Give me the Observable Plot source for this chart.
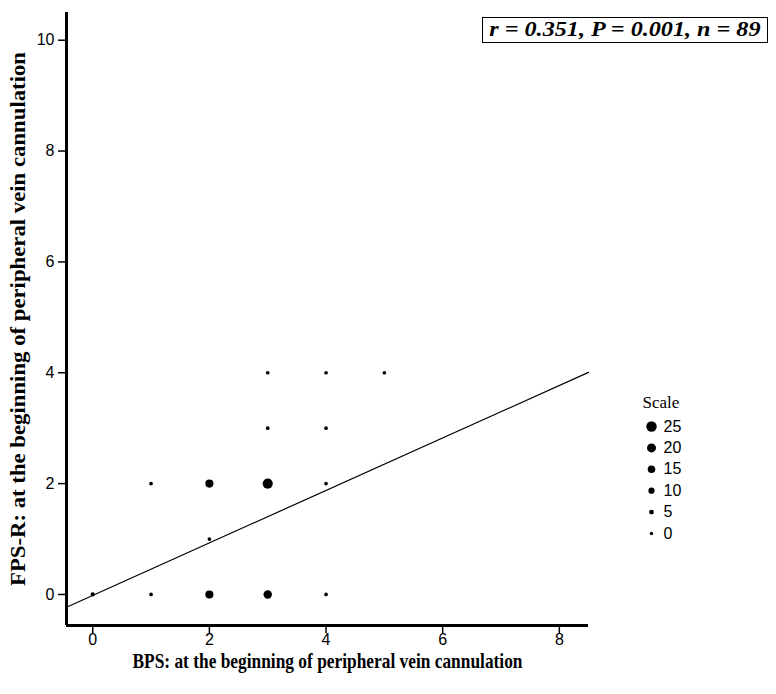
<!DOCTYPE html>
<html><head><meta charset="utf-8">
<script src="https://cdn.jsdelivr.net/npm/d3@7"></script>
<script src="https://cdn.jsdelivr.net/npm/@observablehq/plot@0.6"></script>
<style>
html,body{margin:0;padding:0;background:#fff;}
#wrap{position:relative;width:776px;height:694px;overflow:hidden;}
#wrap svg{display:block;}
#stats{position:absolute;left:482px;top:17px;width:286px;height:26px;border:1.5px solid #000;box-sizing:border-box;
  font:italic bold 21px "Liberation Serif","Times New Roman",serif;text-align:center;line-height:23px;white-space:nowrap;}
#stats span{display:inline-block;transform:scaleX(1.15);transform-origin:center;}
#legend{position:absolute;left:620px;top:390px;}
</style></head><body><div id="wrap"><div id="stats"><span id="statsText"></span></div><div id="legend"></div></div>
<script>
// BPS (x), FPS-R (y) and number of cases at each combination
const bps    = [0, 1, 2, 3, 4, 2, 1, 2, 3, 4, 3, 4, 3, 4, 5];
const fps    = [0, 0, 0, 0, 0, 1, 2, 2, 2, 2, 3, 3, 4, 4, 4];
const counts = [3, 1, 17, 18, 1, 1, 1, 17, 24, 1, 1, 1, 1, 1, 1];

const xTicks = [0, 2, 4, 6, 8];
const yTicks = [0, 2, 4, 6, 8, 10];
const legendValues = [25, 20, 15, 10, 5, 0];
const legendTitle = "Scale";
const xTitle = "BPS: at the beginning of peripheral vein cannulation";
const yTitle = "FPS-R: at the beginning of peripheral vein cannulation";
const statR = "0.351", statP = "0.001", statN = "89";

const xDomain = [-0.45, 8.5];
const yDomain = [-0.56, 10.5];

const data = bps.map((x, i) => ({x, y: fps[i], n: counts[i]}));

// weighted least-squares fit over all cases
const N = d3.sum(counts);
const mx = d3.sum(data, d => d.x * d.n) / N;
const my = d3.sum(data, d => d.y * d.n) / N;
const sxy = d3.sum(data, d => (d.x - mx) * (d.y - my) * d.n);
const sxx = d3.sum(data, d => (d.x - mx) ** 2 * d.n);
const slope = sxy / sxx, intercept = my - slope * mx;
const fit = xDomain.map(x => ({x, y: intercept + slope * x}));

const rScale = {type: "linear", domain: [0, 25], range: [1.7, 5.2]};

const serif = "'Liberation Serif','Times New Roman',serif";

const chart = Plot.plot({
  width: 776, height: 694,
  marginLeft: 66, marginRight: 188, marginTop: 12, marginBottom: 69,
  style: {fontFamily: "'Liberation Sans',Arial,sans-serif", fontSize: "16px", color: "#000", background: "#fff"},
  x: {domain: xDomain},
  y: {domain: yDomain},
  r: rScale,
  marks: [
    Plot.axisX({ticks: xTicks, tickSize: 8, tickPadding: 0, label: null, strokeWidth: 1.5, tickFormat: d => String(d)}),
    Plot.axisY({ticks: yTicks, tickSize: 8, tickPadding: 4, label: null, strokeWidth: 1.5, tickFormat: d => String(d)}),
    Plot.line(fit, {x: "x", y: "y", stroke: "#000", strokeWidth: 1.2}),
    Plot.dot(data, {x: "x", y: "y", r: "n", fill: "#000", stroke: "none"}),
    Plot.ruleX([xDomain[0]], {stroke: "#000", strokeWidth: 3}),
    Plot.ruleY([yDomain[0]], {stroke: "#000", strokeWidth: 3}),
    Plot.text([xTitle], {text: d => d, frameAnchor: "bottom", dy: 36, textAnchor: "middle", lineAnchor: "middle", fontFamily: serif, fontWeight: "bold", fontSize: 21, fill: "#000"}),
    Plot.text([yTitle], {text: d => d, frameAnchor: "left", dx: -48, rotate: -90, textAnchor: "middle", lineAnchor: "middle", fontFamily: serif, fontWeight: "bold", fontSize: 21, fill: "#000"})
  ]
});
document.getElementById("wrap").prepend(chart);

d3.select(chart).selectAll("text").filter(function() { return this.textContent === xTitle; })
  .attr("textLength", 390).attr("lengthAdjust", "spacingAndGlyphs");
d3.select(chart).selectAll("text").filter(function() { return this.textContent === yTitle; })
  .attr("textLength", 534).attr("lengthAdjust", "spacingAndGlyphs");

document.getElementById("statsText").textContent = `r = ${statR}, P = ${statP}, n = ${statN}`;

const legend = Plot.plot({
  width: 90, height: 155, margin: 0,
  style: {fontFamily: "'Liberation Sans',Arial,sans-serif", fontSize: "16px", color: "#000", background: "transparent"},
  x: {domain: [0, 1], range: [31, 43], axis: null},
  y: {domain: [25, 0], range: [36, 143], axis: null},
  r: rScale,
  marks: [
    Plot.dot(legendValues, {x: () => 0, y: d => d, r: d => d, fill: "#000", stroke: "none"}),
    Plot.text(legendValues, {x: () => 1, y: d => d, text: d => String(d), textAnchor: "start", fill: "#000"}),
    Plot.text([legendTitle], {text: d => d, frameAnchor: "top-left", dx: 22, dy: 12, textAnchor: "start", lineAnchor: "middle", fontFamily: serif, fontSize: 17, fill: "#000"})
  ]
});
document.getElementById("legend").append(legend);
</script>
</body></html>
